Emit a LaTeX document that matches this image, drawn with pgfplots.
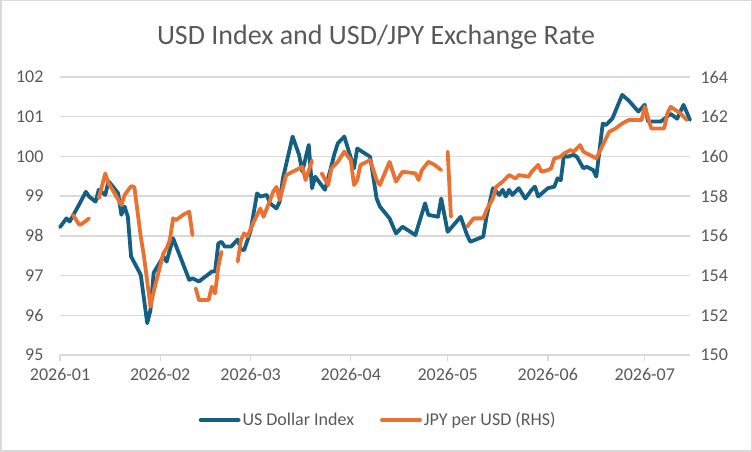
\documentclass[border=0pt]{standalone}
\usepackage{fontspec}
\setmainfont{Carlito}
\usepackage{pgfplots}
\usepackage{pgfplotstable}
\pgfplotsset{compat=1.18}

\definecolor{usdblue}{HTML}{156082}
\definecolor{jpyorange}{HTML}{E97132}
\definecolor{txtgray}{HTML}{595959}
\definecolor{gridgray}{HTML}{D9D9D9}

% day = days since 2026-01-01
\pgfplotstableread{
day usd
0 98.22
2 98.44
3 98.36
6 98.80
8 99.11
9 98.99
11 98.86
12 99.16
14 99.03
15 99.37
16 99.28
18 99.07
19 98.53
20 98.74
21 98.48
22 97.48
25 97.02
27 95.80
28 96.13
29 97.07
32 97.48
33 97.35
35 97.94
40 96.89
41 96.93
43 96.85
47 97.10
48 97.10
49 97.81
50 97.85
51 97.73
53 97.73
55 97.91
56 97.66
57 97.64
59 98.13
61 99.07
62 98.99
64 99.03
65 98.82
67 98.69
68 98.86
69 99.45
72 100.50
74 100.04
75 99.62
77 100.29
78 99.20
79 99.49
82 99.16
83 99.45
85 100.08
86 100.33
88 100.50
91 99.70
92 100.20
96 99.99
98 98.94
99 98.74
102 98.44
104 98.06
106 98.23
110 98.02
113 98.82
114 98.53
117 98.48
118 98.94
120 98.10
124 98.48
126 98.02
127 97.85
131 97.98
132 98.48
134 99.20
136 99.03
137 99.16
138 98.99
139 99.16
140 99.03
142 99.20
144 98.94
146 99.16
147 99.24
148 98.99
151 99.20
153 99.24
154 99.45
155 99.40
156 100.04
157 99.99
159 100.04
160 99.99
162 99.70
163 99.74
165 99.66
166 99.49
168 100.83
169 100.79
171 100.96
174 101.55
176 101.41
179 101.13
181 101.30
182 100.88
186 100.88
189 101.07
191 100.95
193 101.30
195 100.92
}\usdtable

\pgfplotstableread{
day jpy
4 157.05
6 156.55
7 156.63
9 156.88
10 nan
12 157.89
14 159.14
15 158.64
16 158.39
19 157.55
20 158.06
22 158.50
23 158.47
25 155.96
26 154.95
28 152.43
29 153.20
32 155.12
33 155.37
34 155.79
35 156.88
36 156.80
38 157.05
40 157.22
41 156.04
41.5 nan
42 153.36
43 152.77
46 152.77
47 153.44
48 153.10
49 154.45
50 155.20
52 nan
55 154.70
56 155.79
57 156.13
58 155.96
60 156.71
62 157.38
63 156.96
65 157.80
66 158.23
67 158.47
68 157.80
70 159.06
73 159.31
75 159.48
76 158.81
78 159.78
80 nan
81 159.15
83 158.56
84 159.40
86 159.73
88 160.24
90 159.82
91 158.56
92 158.81
93 159.57
94 159.65
96 159.82
98 158.81
99 158.56
102 159.73
104 158.73
106 159.23
110 159.15
111 158.81
112 159.31
114 159.73
116 159.57
118 159.31
119 nan
120 160.24
121 156.96
123 nan
126 156.46
128 156.88
131 156.88
132 157.30
134 157.89
135 158.47
137 158.73
138 158.89
139 159.06
141 158.89
142 159.06
145 158.98
146 159.23
148 159.57
149 159.23
151 159.31
152 159.40
153 159.90
155 159.99
156 160.15
158 160.32
159 160.24
161 160.57
162 160.24
166 159.90
168 160.57
170 161.24
172 161.41
174 161.66
176 161.83
180 161.83
181 162.50
183 161.41
187 161.41
188 162.17
189 162.50
192 162.17
194 161.83
}\jpytable

\pgfplotsset{
  chartbase/.style={
    at={(60pt,97pt)}, anchor=south west,
    scale only axis, width=630pt, height=278pt,
    xmin=0, xmax=195,
    ticklabel style={font=\fontsize{18}{20}\selectfont, text=txtgray},
    /pgf/number format/assume math mode=true,
    unbounded coords=jump,
    clip=false,
  },
  serie/.style={line width=3.8pt, line join=round, line cap=round, mark=none},
}

\begin{document}
\begin{tikzpicture}[x=1pt,y=1pt]
\path[use as bounding box] (0,0) rectangle (752,452);
\draw[gridgray, line width=1.5pt] (0.75,0.75) rectangle (751.25,451.25);
\node[text=txtgray, font=\fontsize{28}{32}\selectfont] at (376,415) {USD Index and USD/JPY Exchange Rate};

% left axis: dollar index
\begin{axis}[chartbase,
  ymin=95, ymax=102, ytick={95,96,...,102},
  xtick={0,31,59,90,120,151,181},
  xticklabels={2026-01,2026-02,2026-03,2026-04,2026-05,2026-06,2026-07},
  axis x line*=bottom, axis y line*=left,
  y axis line style={draw=none},
  x axis line style={gridgray, line width=1.3pt, -},
  ymajorgrids, grid style={gridgray, line width=1.3pt},
  tick align=outside, major tick length=6pt,
  xtick style={gridgray, line width=1.3pt},
  ytick style={draw=none},
  yticklabel style={anchor=east, xshift=-7pt},
  xticklabel style={anchor=north, yshift=-4pt},
]
\addplot[usdblue, serie] table[x=day, y=usd] {\usdtable};
\end{axis}

% right axis: yen per dollar
\begin{axis}[chartbase,
  ymin=150, ymax=164, ytick={150,152,...,164},
  axis y line*=right, axis x line=none,
  y axis line style={draw=none},
  ytick style={draw=none},
  yticklabel style={anchor=west, xshift=7pt},
  legend columns=2,
  legend style={at={(0.505,-0.234)}, anchor=center, draw=none, fill=none,
    font=\fontsize{18}{20}\selectfont, text=txtgray,
    /tikz/every even column/.append style={column sep=24pt}},
  legend image code/.code={\draw[#1, line cap=round] (0pt,0pt) -- (38pt,0pt);},
]
\addlegendimage{usdblue, serie}
\addlegendentry{US Dollar Index}
\addplot[jpyorange, serie] table[x=day, y=jpy] {\jpytable};
\addlegendentry{JPY per USD (RHS)}
\end{axis}
\end{tikzpicture}
\end{document}
